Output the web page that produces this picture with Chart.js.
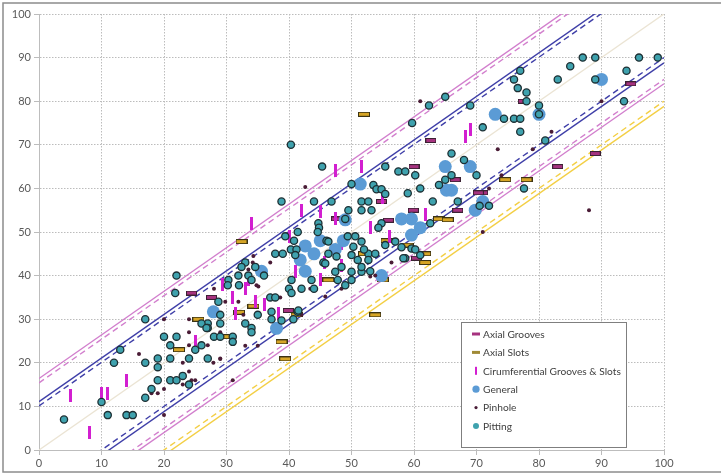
<!DOCTYPE html>
<html><head><meta charset="utf-8">
<script src="https://cdn.jsdelivr.net/npm/chart.js@4.4.0/dist/chart.umd.min.js"></script>
<style>html,body{margin:0;padding:0;background:#fff;}#wrap{position:relative;width:721px;height:475px;}</style>
</head><body><div id="wrap"><canvas id="c" width="721" height="475"></canvas></div>
<script>
// ---------- DATA ----------
const seriesNames = ["Axial Grooves","Axial Slots","Cirumferential Grooves & Slots","General","Pinhole","Pitting"];
const axisTicks = [0,10,20,30,40,50,60,70,80,90,100];

const axialGrooves = [[77.5,80],[94.7,84],[89,68],[83,65],[71,59],[60,65],[66.6,62],[54.8,57],[55.9,52.7],[59.9,55],[67,55],[47.6,53],[70.3,59],[62.7,71],[24.4,36],[27.6,35],[39.9,32],[60.4,44]];

const axialSlots = [[22.4,23],[25.5,30],[30,26],[32,31.6],[32.4,47.8],[34.3,33],[46.3,39],[52,77],[74.6,62],[78,62],[55.6,48],[59,47],[52,45],[61.8,45],[61.8,43],[64,53],[65.4,52.8],[38.8,24.8],[39.4,20.9],[41.2,31],[55,39],[53.8,31]];

const circumferential = [[5,12.5],[8,4],[10,13],[11,13],[14,16],[25,25],[34,52],[42,55],[40,49],[41,41],[45,39],[45.6,43],[45,54.7],[47.4,64],[51.6,65],[55,58],[61.8,54],[47.4,53],[53,51],[56,49],[48.4,47.4],[48.4,42.4],[33.5,39],[33,37],[29.3,38],[31,35],[34.6,34],[36,33.3],[31.4,31.4],[38.3,31.4],[68.3,72],[69,73.5]];

const general = [[90,85],[80,77],[73,77],[71,57],[27.9,31.7],[38,27.9],[42.6,46.8],[44,45],[42.6,41],[41.8,43.6],[35.6,41],[45,48],[51.4,61],[49,52.8],[58,53],[59.6,53],[61,51],[48.7,48],[47.4,46],[65.2,59.6],[59.6,49.3],[54.8,40],[65,65],[69,65],[66,59.6],[69.8,55]];

const pinhole = [[16,22],[18,13],[19,13],[20,14],[20,8],[20,30],[23,20],[23,15],[24,27],[24,24],[24,18],[24.4,16],[25,16],[27,24],[29,21],[24,30],[31,16],[37,43],[34.3,44.5],[34.2,43],[34.8,37.8],[28,37],[29.8,34],[38.6,35],[31.9,34],[43.4,37],[32.7,31],[29,27],[33,23.9],[35,23.9],[27.9,20],[29,20.9],[42,31],[33.5,41.4],[35.1,37.5],[42.6,60.3],[56.4,43],[48.4,37],[45.8,35.2],[44.2,37],[53,39.8],[53.8,40],[90,80],[82,73],[79,69],[73.4,69],[74,63],[72,60],[88,55],[71,50],[61,80]];

const pitting = [[4,7],[10,11],[11,8],[14,8],[15,8],[12,20],[13,23],[17,30],[17,20],[17,12],[18,14],[19,21],[19,19],[19,16],[20,26],[21,16],[21,21],[21,24],[22,26],[22,16],[23,17],[24,21],[24,15],[25,23],[26,24],[27,21],[27,29],[27,28],[28,26],[29,29],[29,31],[31,26],[31,24.8],[28.7,34],[22,40],[21.8,36],[26,29],[26.8,28],[29,26],[33,29],[34,28],[34,27],[35,31],[37.2,31.7],[37.2,30],[38.8,29.7],[41.4,31.7],[40.7,30],[41.5,32],
[30.3,39],[30.2,37.8],[32,37.8],[31.9,40],[33.5,40],[34,39],[36,40],[33,43],[32.4,42],[34.6,42],[37.8,45],[39,45],[40.8,48],[40.3,46],[41.2,46],[41,44.7],[41.4,50],[39.4,49],[44.7,52],[44.8,51],[44.6,50],[38.8,57],[44,57],[40.4,39],[40,37],[40.4,36],[42,37],[44,37],[37,35],[37.8,35],[46,48],[45.5,43],[43.6,39],[47.4,40.9],[47.8,39],[49,37.8],[50,39],[45.8,42.8],[50,40.9],[51.6,40.9],[51.6,42],[53,41],[52.7,45],[53.8,45],[58.6,44],[59.6,46.2],
[50,61],[53.5,60.8],[54,59.8],[54.8,59.8],[55.4,58.7],[59,58.9],[51.6,57],[52.7,57],[53.2,55],[51.6,55],[49.5,55],[46.8,57],[57.5,63.9],[58.6,63.9],[60.2,63],[64,60.8],[65,62],[49,53],[54.8,52],[54.3,51],[49.4,49],[50.6,49],[51.6,47.8],[50.3,46.6],[52,46],[46.3,47.8],[46.3,45],[47.6,44.4],[55.4,47],[57,47.8],[58,46.5],[58.3,44],[61,44.7],[60.2,46],[62.6,52],[51,43.6],[52.7,43.6],[48.4,42],[50,44.7],
[87,90],[89,90],[96,90],[99,90],[85,88],[94,87],[77,87],[83,85],[89,85],[76,85],[76.6,83],[78,82],[78,80],[80,79],[80,77],[74.4,76],[76,76],[77,76],[77,73],[81,71],[71,74],[93.6,80],[77.6,60],
[65,81],[69,79],[62.4,79],[59.7,75],[40.3,70],[45.3,65],[55.4,65],[68,66.5],[66,68],[70,63],[67,57],[63,57],[70.5,56],[66,63],[61,60],[72,56]];

// reference lines y = x + offset
const lineOffsets = [16.4, 15.4, 11.1, 10.1, 0, -10, -11.2, -15, -16, -20, -21.2];

// ---------- STYLES ----------
const lineStyles = [
  {c:'#d27fcd', d:[]},{c:'#d27fcd', d:[6,4]},
  {c:'#3f3fa8', d:[]},{c:'#3f3fa8', d:[6,4]},
  {c:'#ebe4d4', d:[]},
  {c:'#3f3fa8', d:[6,4]},{c:'#3f3fa8', d:[]},
  {c:'#d27fcd', d:[6,4]},{c:'#d27fcd', d:[]},
  {c:'#f3cf45', d:[6,4]},{c:'#f3cf45', d:[]}
];
function barImg(w,h,fill,stroke){
  const c=document.createElement('canvas');c.width=w;c.height=h;
  const g=c.getContext('2d');g.fillStyle=fill;g.fillRect(0,0,w,h);
  if(stroke){g.strokeStyle=stroke;g.lineWidth=1;g.strokeRect(0.5,0.5,w-1,h-1);}
  return c;
}
const grooveImg = barImg(11,5,'#a6327f','#3b2233');
const slotImg = barImg(12,5,'#d6a526','#3b3314');
const circImg = barImg(3,13,'#d21fd0',null);
const toPts = a => a.map(p=>({x:p[0],y:p[1]}));

const datasets = [];
lineOffsets.forEach((o,i)=>{
  datasets.push({type:'line',label:'_line'+i,data:[{x:0,y:o},{x:100,y:100+o}],borderColor:lineStyles[i].c,borderDash:lineStyles[i].d,borderWidth:1.4,pointRadius:0,fill:false,order:20+i,tension:0});
});
datasets.push({label:seriesNames[0],data:toPts(axialGrooves),pointStyle:grooveImg,order:5});
datasets.push({label:seriesNames[1],data:toPts(axialSlots),pointStyle:slotImg,order:4});
datasets.push({label:seriesNames[2],data:toPts(circumferential),pointStyle:circImg,order:3});
datasets.push({label:seriesNames[3],data:toPts(general),pointStyle:'circle',radius:6.5,backgroundColor:'#5b9bd5',borderColor:'#5b9bd5',borderWidth:0,order:2});
datasets.push({label:seriesNames[4],data:toPts(pinhole),pointStyle:'circle',radius:2,backgroundColor:'#4a1c36',borderColor:'#4a1c36',borderWidth:0,order:1});
datasets.push({label:seriesNames[5],data:toPts(pitting),pointStyle:'circle',radius:3.6,backgroundColor:'#3fa2ae',borderColor:'#1d2f33',borderWidth:1.3,order:0});

const frame = {id:'frame',beforeDraw(ch){const g=ch.ctx;g.save();g.fillStyle='#fff';g.fillRect(0,0,ch.width,ch.height);g.strokeStyle='#8c8c8c';g.lineWidth=1.5;g.strokeRect(3,3,730,469);g.restore();}};

const legendSpec = [
  {k:'hbar',c:'#a6327f'},{k:'hbar',c:'#a08a36'},{k:'vbar',c:'#d21fd0'},
  {k:'dot',c:'#5b9bd5',r:3.6},{k:'dot',c:'#4a1c36',r:1.6},{k:'dot',c:'#3fa2ae',r:3}
];
const boxLegend = {id:'boxLegend',afterDraw(ch){
  const g=ch.ctx;g.save();
  const x0=461,y0=322,w=165,h=125;
  g.fillStyle='#fff';g.fillRect(x0,y0,w,h);
  g.strokeStyle='#7f7f7f';g.lineWidth=1;g.strokeRect(x0+0.5,y0+0.5,w,h);
  g.font='10.2px Lato';g.textBaseline='middle';g.fillStyle='#404040';
  seriesNames.forEach((n,i)=>{
    const y=334+i*18.4, mx=476, s=legendSpec[i];
    if(s.k==='hbar'){g.fillStyle=s.c;g.fillRect(mx-4,y-1.5,8,3);}
    else if(s.k==='vbar'){g.fillStyle=s.c;g.fillRect(mx-1,y-4,2,8);}
    else {g.fillStyle=s.c;g.beginPath();g.arc(mx,y,s.r,0,Math.PI*2);g.fill();}
    g.fillStyle='#404040';g.fillText(n,483,y+0.5);
  });
  g.restore();
}};

const tickFont = {family:'Lato',size:11};
new Chart(document.getElementById('c'),{
  type:'scatter',
  data:{datasets},
  plugins:[frame,boxLegend],
  options:{
    responsive:false,animation:false,devicePixelRatio:1,
    layout:{padding:{left:0,top:14,right:57,bottom:0}},
    plugins:{legend:{display:false},tooltip:{enabled:false}},
    elements:{point:{radius:4,hoverRadius:4}},
    scales:{
      x:{type:'linear',min:0,max:100,
        afterBuildTicks(s){s.ticks=axisTicks.map(v=>({value:v}));},
        afterFit(s){s.height=25;},
        grid:{color:'#bcbcbc',tickLength:5,lineWidth:1,tickColor:'#bcbcbc'},
        border:{display:true,color:'#bdbdbd',width:1,dash:[1.5,1.5]},
        ticks:{font:tickFont,color:'#595959',padding:2,maxRotation:0}},
      y:{type:'linear',min:0,max:100,
        afterBuildTicks(s){s.ticks=axisTicks.map(v=>({value:v}));},
        afterFit(s){s.width=39;},
        grid:{color:'#bcbcbc',tickLength:5,lineWidth:1,tickColor:'#bcbcbc'},
        border:{display:true,color:'#bdbdbd',width:1,dash:[1.5,1.5]},
        ticks:{font:tickFont,color:'#595959',padding:3}}
    }
  }
});
</script></body></html>
